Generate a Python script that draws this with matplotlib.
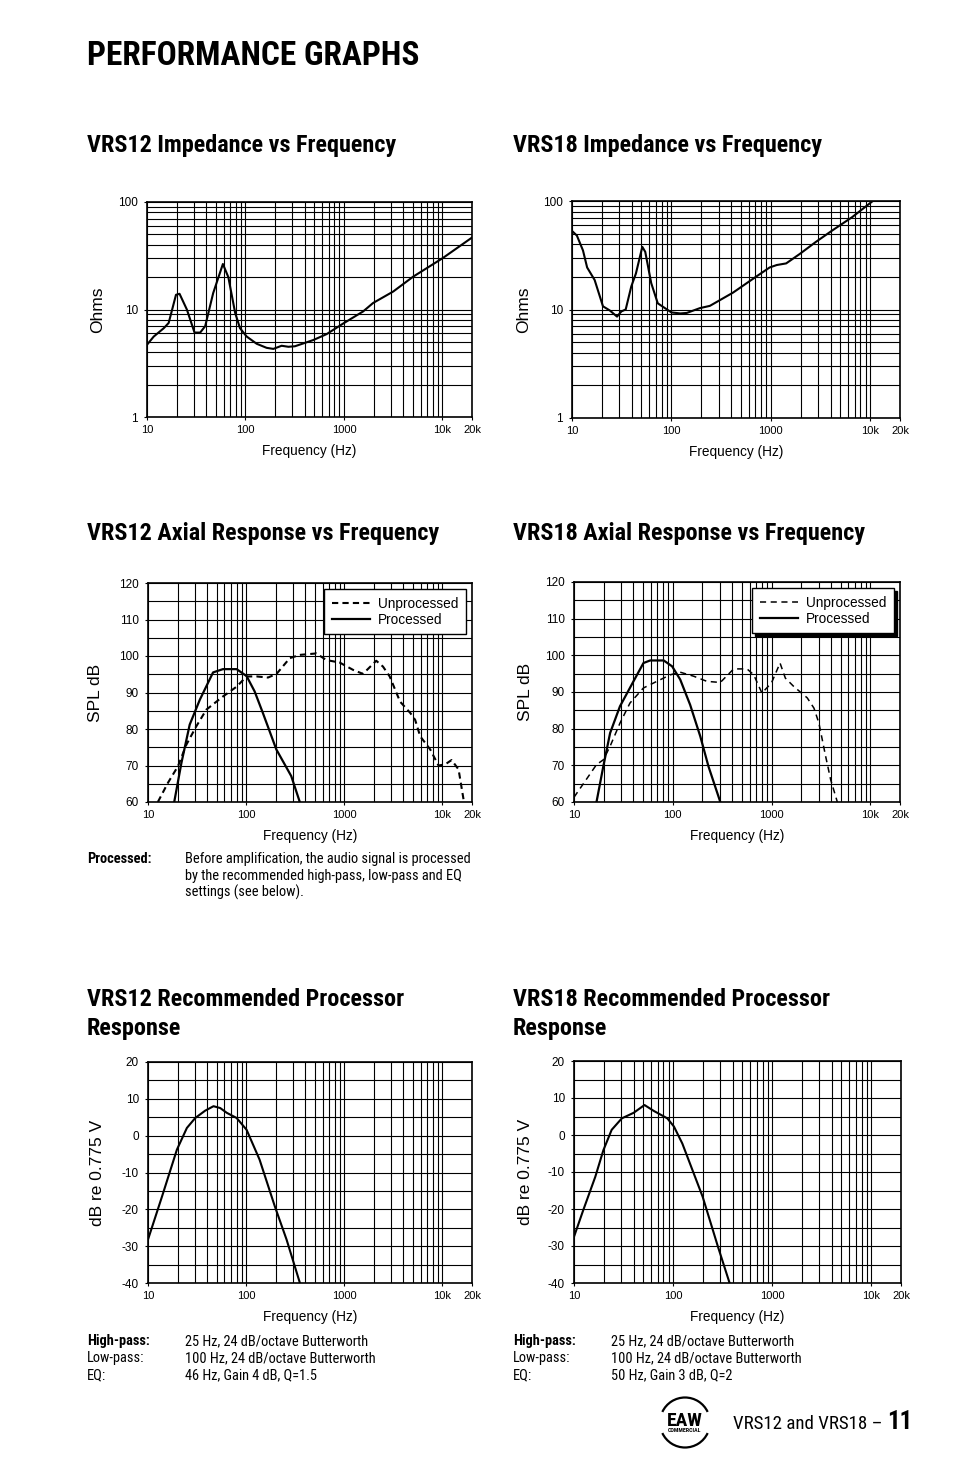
import matplotlib
matplotlib.use("Agg")
import matplotlib.pyplot as plt
from matplotlib import font_manager
from matplotlib.font_manager import FontProperties
from matplotlib.patches import Arc
from matplotlib.ticker import FixedLocator, NullFormatter

plt.rcParams['axes.unicode_minus'] = False

# fonts: look for a narrow / condensed face on disk
files = [f.fname for f in font_manager.fontManager.ttflist]


def find_font(cands):
    for c in cands:
        for p in files:
            if p.endswith(c):
                return p
    return None


COND_B = find_font(['LiberationSansNarrow-Bold.ttf', 'NotoSans-CondensedBold.ttf',
                    'RobotoCondensed-Bold.ttf', 'DejaVuSansCondensed-Bold.ttf'])
COND_R = find_font(['LiberationSansNarrow-Regular.ttf', 'NotoSans-Condensed.ttf',
                    'RobotoCondensed-Regular.ttf', 'DejaVuSansCondensed.ttf'])
SANS = 'Liberation Sans' if any('LiberationSans-Regular' in p for p in files) else 'DejaVu Sans'
plt.rcParams['font.family'] = [SANS, 'DejaVu Sans']


def cond(size, bold=False):
    p = COND_B if bold else COND_R
    if p:
        return FontProperties(fname=p, size=size)
    return FontProperties(family='DejaVu Sans', size=size,
                          weight='bold' if bold else 'normal', stretch='condensed')


# ---- data ----
x_ticks = [10, 100, 1000, 10000, 20000]
x_ticklabels = ['10', '100', '1000', '10k', '20k']

imp12_f = [10, 11.7, 14.8, 16.6, 19.7, 21.4, 25.4, 30.4, 34.7, 39, 47, 59, 67, 78.6, 88,
           103, 130, 164, 192, 233, 273, 318, 489, 667, 982, 1569, 1980, 3170, 5050,
           10000, 20000]
imp12_z = [4.7, 5.6, 6.7, 7.5, 13.7, 14, 10, 6.1, 6.1, 7, 14.2, 26.5, 20, 9.3, 6.7,
           5.6, 4.8, 4.4, 4.3, 4.6, 4.5, 4.55, 5.2, 5.9, 7.4, 9.6, 11.5, 14.7, 20.2,
           29.9, 46.7]

imp18_f = [10, 11.2, 12.9, 14.2, 16.9, 20.5, 24, 28.4, 31.4, 34.7, 39.5, 44, 51, 54.6,
           62.7, 73, 100, 123, 143, 194, 244, 417, 714, 975, 1150, 1430, 1950, 2850,
           4200, 6600, 10650]
imp18_z = [53, 48, 35, 24.4, 18.7, 10.7, 9.8, 8.6, 9.6, 10, 16.3, 21.5, 37.8, 34,
           17.5, 11.4, 9.4, 9.2, 9.3, 10.3, 10.8, 14.3, 20.1, 24.4, 25.7, 26.6, 32.4, 42,
           53.8, 71, 100]

spl12_unproc_f = [12.6, 16, 20.2, 24.6, 31, 39.3, 58, 80, 101, 128, 167, 204, 278, 351,
                  519, 655, 898, 1228, 1550, 2116, 2478, 2900, 3700, 4700, 5270, 5930,
                  7500, 9110, 10650, 12400, 14600, 16400]
spl12_unproc_db = [60, 65.3, 69.8, 75.7, 80.7, 85.3, 88.9, 91.6, 94.4, 94.4, 94.1, 95.1,
                   99.4, 100.3, 100.7, 98.9, 98.2, 96.2, 95.1, 98.7, 97.1, 94.4, 87.5,
                   84.4, 82.5, 78, 74.4, 70, 70.3, 71.5, 68.9, 60.7]
spl12_proc_f = [18.5, 21.9, 26.6, 33.7, 46, 58, 80, 101, 122, 148, 203, 288, 352]
spl12_proc_db = [60, 70.7, 81.2, 88, 95.5, 96.4, 96.4, 94.5, 90.3, 84.4, 74.4, 67.1, 60]

spl18_unproc_f = [10, 12.9, 16.9, 19.8, 23.2, 29.2, 36.9, 50.5, 69, 94.7, 119, 163, 222,
                  303, 414, 565, 660, 800, 1000, 1220, 1380, 1680, 2300, 2690, 3020,
                  3530, 3970, 4640]
spl18_unproc_db = [61.3, 65.6, 70.2, 71.5, 75.2, 81.5, 87, 91.1, 92.9, 94.7, 95.4, 94.3,
                   92.9, 92.6, 96.3, 96.3, 94.7, 89.7, 92.5, 97.9, 93.8, 91.5, 88.4,
                   85.6, 81.5, 72.5, 66.1, 60]
spl18_proc_f = [16.9, 19.8, 23.2, 29.2, 40, 50.5, 59, 81, 98.5, 119, 150, 190, 230, 303]
spl18_proc_db = [60, 69.7, 78.8, 86.1, 92.9, 97.9, 98.6, 98.6, 97, 93.4, 86.5, 77.9,
                 69.7, 60]

proc12_f = [10, 13.9, 19.7, 24.9, 30.3, 38.3, 46.5, 54.4, 63.5, 80, 101, 137, 196, 258, 353]
proc12_db = [-28.2, -16.5, -3.8, 2.1, 4.8, 6.8, 8, 7.5, 6.2, 4.8, 1.6, -6.5, -19.2,
             -28.2, -40]

proc18_f = [10, 12.4, 16.4, 19.8, 24, 30.4, 40, 51.5, 64, 87.5, 102, 124, 199, 284, 372]
proc18_db = [-27.5, -20.3, -11.3, -4.1, 1.4, 4.5, 6, 8.1, 6.5, 4.5, 2.3, -2.3, -16.7,
             -30.2, -40]

W, H = 954, 1475
fig = plt.figure(figsize=(W / 100, H / 100), dpi=100)


def add_ax(l, t, r, b):
    return fig.add_axes([l / W, 1 - b / H, (r - l) / W, (b - t) / H])


def minor_log(lo, hi):
    out = []
    d = lo
    while d < hi:
        for k in range(2, 10):
            if lo < d * k < hi:
                out.append(d * k)
        d *= 10
    return out


def setup(ax, ylabel, ylim, logy=False, ylab_dx=42):
    ax.set_xscale('log')
    ax.set_xlim(10, 20000)
    ax.set_xticks(x_ticks)
    ax.set_xticklabels(x_ticklabels)
    ax.xaxis.set_minor_locator(FixedLocator(minor_log(10, 20000)))
    ax.xaxis.set_minor_formatter(NullFormatter())
    if logy:
        ax.set_yscale('log')
        ax.set_ylim(*ylim)
        ax.set_yticks([1, 10, 100])
        ax.set_yticklabels(['1', '10', '100'])
        ax.yaxis.set_minor_locator(FixedLocator(minor_log(1, 100)))
        ax.yaxis.set_minor_formatter(NullFormatter())
    else:
        ax.set_ylim(*ylim)
        ax.set_yticks(list(range(ylim[0], ylim[1] + 1, 10)))
        ax.yaxis.set_minor_locator(FixedLocator(list(range(ylim[0] + 5, ylim[1], 10))))
    ax.grid(True, which='both', color='black', lw=0.8)
    ax.tick_params(which='minor', length=0)
    ax.tick_params(axis='x', which='major', length=2, width=0.8, pad=4, labelsize=8,
                   colors='black')
    ax.tick_params(axis='y', which='major', length=2, width=0.8, pad=4.5, labelsize=8.5,
                   colors='black')
    for s in ax.spines.values():
        s.set_linewidth(1.2)
    ax.set_xlabel('Frequency (Hz)', fontsize=9.8, labelpad=6.5)
    ax.set_ylabel(ylabel, fontsize=12.5)
    w = ax.get_position().width * W
    ax.yaxis.set_label_coords(-ylab_dx / w, 0.5)


def legend(ax, shadow=False):
    kw = dict(loc='upper right', fontsize=9.8, frameon=True, fancybox=False,
              edgecolor='black', framealpha=1, handlelength=2.8, handletextpad=0.6,
              borderaxespad=0.45, borderpad=0.55, labelspacing=0.15)
    if shadow:
        kw['shadow'] = {'color': 'black', 'alpha': 1}
    leg = ax.legend(**kw)
    leg.get_frame().set_linewidth(1.0)


# impedance
ax = add_ax(147, 202, 472, 417)
setup(ax, 'Ohms', (1, 100), logy=True, ylab_dx=42)
ax.plot(imp12_f, imp12_z, color='black', lw=1.5)

ax = add_ax(572, 201, 900, 418)
setup(ax, 'Ohms', (1, 100), logy=True, ylab_dx=41)
ax.plot(imp18_f, imp18_z, color='black', lw=1.5)

# axial response
ax = add_ax(148, 583, 472, 802)
setup(ax, 'SPL dB', (60, 120), ylab_dx=45)
ax.plot(spl12_unproc_f, spl12_unproc_db, color='black', lw=1.5, ls=(0, (3, 2)),
        label='Unprocessed')
ax.plot(spl12_proc_f, spl12_proc_db, color='black', lw=1.6, label='Processed')
legend(ax)

ax = add_ax(574, 582, 900, 802)
setup(ax, 'SPL dB', (60, 120), ylab_dx=41)
ax.plot(spl18_unproc_f, spl18_unproc_db, color='black', lw=1.1, ls=(0, (4, 3)),
        label='Unprocessed')
ax.plot(spl18_proc_f, spl18_proc_db, color='black', lw=1.6, label='Processed')
legend(ax, shadow=True)

# processor response
ax = add_ax(148, 1062, 472, 1283)
setup(ax, 'dB re 0.775 V', (-40, 20), ylab_dx=43)
ax.plot(proc12_f, proc12_db, color='black', lw=1.5)

ax = add_ax(574, 1061, 901, 1283)
setup(ax, 'dB re 0.775 V', (-40, 20), ylab_dx=41)
ax.plot(proc18_f, proc18_db, color='black', lw=1.5)


# ---- page text ----
def ftext(x, y, s, size, bold=False, **kw):
    fig.text(x / W, 1 - y / H, s, fontproperties=cond(size, bold), va='baseline', **kw)


ftext(87, 65, 'PERFORMANCE GRAPHS', 24, bold=True)
heads = [(87, 152, 'VRS12 Impedance vs Frequency'),
         (513, 152, 'VRS18 Impedance vs Frequency'),
         (87, 540, 'VRS12 Axial Response vs Frequency'),
         (513, 540, 'VRS18 Axial Response vs Frequency'),
         (87, 1006, 'VRS12 Recommended Processor'),
         (87, 1035, 'Response'),
         (513, 1006, 'VRS18 Recommended Processor'),
         (513, 1035, 'Response')]
for x, y, s in heads:
    ftext(x, y, s, 17.4, bold=True)

ftext(87, 863, 'Processed:', 10.4, bold=True)
for i, line in enumerate(['Before amplification, the audio signal is processed',
                          'by the recommended high-pass, low-pass and EQ',
                          'settings (see below).']):
    ftext(185, 863 + 17 * i, line, 10.4)

notes12 = ['25 Hz, 24 dB/octave Butterworth', '100 Hz, 24 dB/octave Butterworth',
           '46 Hz, Gain 4 dB, Q=1.5']
notes18 = ['25 Hz, 24 dB/octave Butterworth', '100 Hz, 24 dB/octave Butterworth',
           '50 Hz, Gain 3 dB, Q=2']
keys = ['High-pass:', 'Low-pass:', 'EQ:']
for x0, notes in [(87, notes12), (513, notes18)]:
    for i, (k, v) in enumerate(zip(keys, notes)):
        y = 1345 + 17 * i
        ftext(x0, y, k, 10.4, bold=(i == 0))
        ftext(x0 + 98, y, v, 10.4)

# footer
ftext(733, 1429, 'VRS12 and VRS18 \u2013', 13.6)
ftext(887, 1429, '11', 18, bold=True, ha='left')

logo = fig.add_axes([640 / W, 1 - 1450 / H, 90 / W, 55 / H])
logo.set_xlim(-45, 45)
logo.set_ylim(-27.5, 27.5)
logo.set_aspect('equal')
logo.axis('off')
logo.add_patch(Arc((0, 0), 50, 50, theta1=25, theta2=155, lw=1.6, color='black'))
logo.add_patch(Arc((0, 0), 50, 50, theta1=205, theta2=335, lw=1.6, color='black'))
logo.text(0, 1, 'EAW', fontproperties=cond(14, True), style='italic', ha='center',
          va='center')
logo.text(0, -8, 'COMMERCIAL', fontproperties=cond(4.2, True), ha='center', va='center')

fig.savefig('out.png', dpi=100)
